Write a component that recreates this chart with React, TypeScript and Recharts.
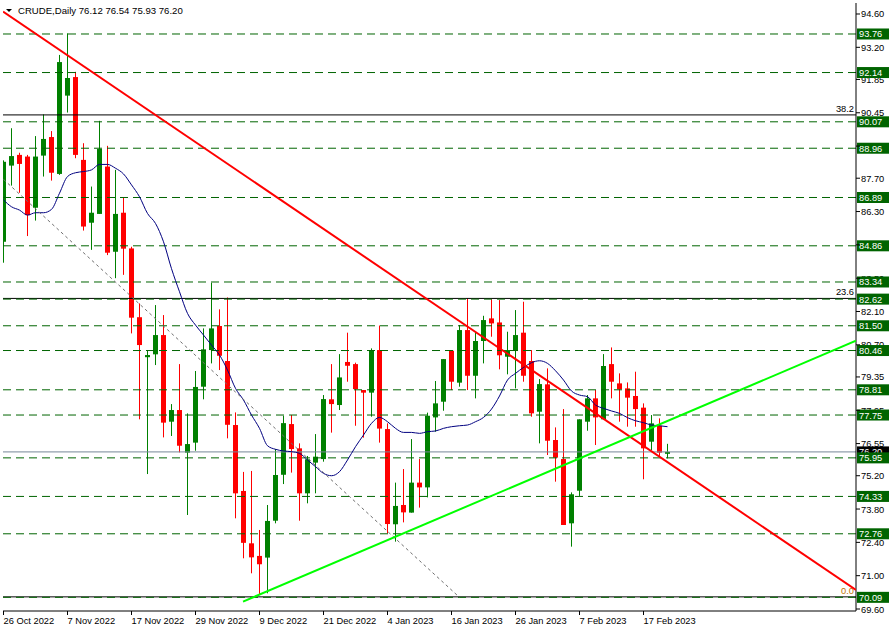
import { Bar, ComposedChart, Line, ReferenceLine, Scatter, XAxis, YAxis } from 'recharts'

const FONT = 'Liberation Sans, Arial, sans-serif'

// daily bars, 26 Oct 2022 .. 22 Feb 2023
const opens = [
  85.03, 88.23, 88.68, 88.61, 86.46, 88.65, 89.43, 87.88, 91.17, 91.95, 88.47, 85.83, 86.2, 88.19, 84.61, 86.25,
  84.75, 81.86, 80.18, 80.3, 81.11, 77.47, 77.96, 76.17, 76.59, 78.94, 80.48, 81.49, 80.02, 77.33, 74.56, 72.36,
  71.83, 71.76, 73.31, 75.24, 77.37, 76.35, 74.46, 75.75, 75.9, 78.41, 78.17, 79.98, 79.89, 78.8, 78.69, 80.48,
  77.16, 73.16, 73.97, 73.65, 74.91, 74.71, 77.65, 78.31, 80.45, 79.11, 81.32, 79.4, 80.86, 81.81, 81.64, 80.2,
  80.44, 81.21, 80.02, 77.89, 79.04, 76.7, 75.9, 73.2, 74.57, 77.47, 78.45, 77.57, 79.89, 79.08, 78.87, 78.55,
  78.06, 76.63, 77.3, 76.12,
]
const highs = [
  88.45, 89.8, 88.77, 88.68, 89.47, 90.38, 89.68, 92.88, 93.79, 92.17, 89.17, 87.35, 90.11, 89.06, 88.05, 86.9,
  84.82, 82.44, 80.46, 82.37, 81.95, 78.21, 79.89, 77.82, 79.6, 81.39, 83.31, 82.19, 82.69, 77.86, 75.36, 75.4,
  72.92, 73.97, 76.32, 77.72, 77.75, 76.56, 76.03, 76.95, 78.59, 79.89, 80.31, 81.21, 79.95, 78.8, 80.55, 81.51,
  77.4, 74.91, 75.48, 76.74, 75.9, 77.85, 79.18, 80.1, 80.45, 81.53, 82.65, 81.25, 81.92, 82.61, 82.58, 81.25,
  82.16, 82.51, 80.48, 79.26, 79.71, 77.23, 78.0, 74.5, 77.57, 78.59, 78.8, 80.31, 80.59, 79.5, 79.12, 79.57,
  78.24, 77.75, 77.61, 76.54,
]
const lows = [
  84.15, 87.39, 87.09, 85.27, 85.92, 87.77, 87.6, 87.84, 90.46, 88.54, 85.5, 84.69, 86.2, 84.47, 83.5, 83.64,
  81.18, 77.57, 75.27, 79.85, 76.81, 76.87, 76.18, 73.55, 76.25, 78.41, 79.92, 79.64, 76.77, 73.41, 71.73, 71.1,
  70.19, 70.26, 73.2, 74.85, 75.33, 73.31, 74.04, 74.46, 75.79, 77.01, 77.96, 79.15, 77.3, 76.8, 77.68, 76.59,
  72.78, 72.43, 73.24, 73.65, 73.86, 74.29, 77.05, 77.93, 78.8, 78.94, 78.8, 78.45, 79.92, 81.04, 79.67, 79.46,
  78.87, 79.15, 77.68, 76.56, 76.07, 74.95, 73.13, 72.22, 74.35, 77.09, 76.49, 77.57, 78.45, 77.47, 77.26, 77.26,
  75.05, 76.28, 76.0, 75.93,
]
const closes = [
  88.39, 88.63, 88.3, 86.15, 88.61, 89.35, 87.93, 92.58, 91.91, 88.68, 85.67, 86.25, 88.93, 84.57, 86.2, 84.74,
  81.84, 80.69, 80.27, 81.11, 77.43, 77.96, 76.46, 76.53, 78.93, 80.51, 81.39, 80.24, 77.34, 74.46, 72.38, 71.77,
  71.48, 73.3, 75.23, 77.41, 76.32, 74.46, 75.89, 76.0, 78.42, 78.21, 79.33, 79.82, 78.84, 78.69, 80.48, 77.18,
  73.17, 73.93, 73.66, 74.91, 74.71, 77.72, 78.24, 80.1, 79.15, 81.32, 79.4, 80.86, 81.74, 81.6, 80.26, 80.48,
  81.11, 79.4, 77.82, 79.05, 76.67, 75.96, 73.13, 74.42, 77.57, 78.45, 77.65, 79.81, 79.15, 78.83, 78.48, 78.0,
  76.35, 77.4, 76.17, 76.2,
]
// navy moving average
const movingAvg = [
  86.79, 86.5, 86.36, 86.15, 86.25, 86.25, 86.39, 87.07, 87.77, 87.93, 87.98, 88.05, 88.28, 88.28, 88.12, 87.88,
  87.42, 86.92, 86.22, 85.8, 85.03, 83.9, 82.93, 82.02, 81.53, 81.11, 80.69, 80.27, 79.64, 78.87, 78.38, 77.75,
  77.19, 76.46, 76.31, 76.24, 76.21, 76.14, 75.86, 75.58, 75.3, 75.2, 75.37, 75.86, 76.42, 76.91, 77.4, 77.65,
  77.47, 77.19, 77.02, 77.02, 76.98, 77.05, 77.08, 77.19, 77.26, 77.3, 77.33, 77.47, 77.65, 78.0, 78.55, 79.22,
  79.5, 79.75, 79.95, 80.03, 79.92, 79.61, 79.22, 78.76, 78.59, 78.52, 78.17, 78.03, 77.92, 77.82, 77.64, 77.51,
  77.43, 77.33, 77.3, 77.26,
]

const dateLabels = ['26 Oct 2022', '7 Nov 2022', '17 Nov 2022', '29 Nov 2022', '9 Dec 2022', '21 Dec 2022', '4 Jan 2023', '16 Jan 2023', '26 Jan 2023', '7 Feb 2023', '17 Feb 2023']
const dateTicks = [0, 8, 16, 24, 32, 40, 48, 56, 64, 72, 80]

const priceTicks = [94.6, 93.2, 91.85, 90.45, 89.05, 87.7, 86.3, 84.9, 83.5, 82.1, 80.7, 79.35, 77.95, 76.55, 75.2, 73.8, 72.4, 71.0, 69.6]
const levels = [93.76, 92.14, 90.07, 88.96, 86.89, 84.86, 83.34, 82.62, 81.5, 80.46, 78.81, 77.75, 75.95, 74.33, 72.76, 70.09]
const fibLevels = [90.36, 82.65, 70.11]
const fibNames = ['38.2', '23.6', '0.0']
const lastPrice = 76.2

const redTrend = [{ i: -0.0625, p: 94.7 }, { i: 106.5625, p: 70.4 }]
const greenTrend = [{ i: 29.94, p: 69.91 }, { i: 106.5625, p: 80.87 }]
const grayTrend = [{ i: 0, p: 87.65 }, { i: 57, p: 70.09 }]

const rows = opens.map((o, i) => ({
  i,
  o,
  h: highs[i],
  l: lows[i],
  c: closes[i],
  range: [lows[i], highs[i]],
  ma: movingAvg[i],
}))

function Candle(props: any) {
  const { x, y, width, height, payload } = props
  if (!payload) return null
  const { o, h, l, c } = payload
  const color = c >= o ? '#008000' : '#ff0000'
  const top = Math.min(y, y + height)
  const hh = Math.abs(height)
  const py = (p: number) => top + ((h - p) / (h - l || 1)) * hh
  const cx = Math.round(x + width / 2) + 0.5
  const bTop = py(Math.max(o, c))
  const bBot = py(Math.min(o, c))
  return (
    <g>
      <line x1={cx} x2={cx} y1={top} y2={top + hh} stroke={color} strokeWidth={1} />
      <rect x={cx - 2.5} y={bTop} width={5} height={Math.max(1, bBot - bTop)} fill={color} />
    </g>
  )
}

function DateTick({ x, y, payload }: any) {
  const k = dateTicks.indexOf(payload.value)
  return (
    <text x={x} y={y + 7} fontSize={9.3} fontFamily={FONT} fill="#000" textAnchor="start">
      {dateLabels[k]}
    </text>
  )
}

// price scale text, drawn in the same layer as the level tags so the tags sit on top
function priceText(text: string) {
  return (props: any) => {
    const { x, y, width } = props.viewBox
    return (
      <text x={x + width + 5} y={y + 3.5} fontSize={9.3} fontFamily={FONT} fill="#000">
        {text}
      </text>
    )
  }
}

function tag(text: string, fill: string) {
  return (props: any) => {
    const { x, y, width } = props.viewBox
    return (
      <g>
        <rect x={x + width + 1} y={y - 5.5} width={32} height={11} fill={fill} />
        <text x={x + width + 3} y={y + 3.5} fontSize={9.3} fontFamily={FONT} fill="#fff">
          {text}
        </text>
      </g>
    )
  }
}

function fibText(text: string) {
  return (props: any) => {
    const { x, y, width } = props.viewBox
    return (
      <text x={x + width - 2} y={y - 3} fontSize={9.3} fontFamily={FONT} fill={text === '0.0' ? '#c07000' : '#000'} textAnchor="end">
        {text}
      </text>
    )
  }
}

export default function App() {
  return (
    <div style={{ position: 'fixed', left: 0, top: 0, width: 896, height: 633, background: '#fff' }}>
      <ComposedChart width={896} height={633} data={rows} margin={{ top: 3, right: 0, bottom: 0, left: 3 }}>
        <XAxis
          dataKey="i"
          type="number"
          domain={[-0.0625, 106.5625]}
          allowDataOverflow
          ticks={dateTicks}
          tick={<DateTick />}
          tickSize={4}
          tickMargin={2}
          height={22}
          stroke="#000"
          interval={0}
        />
        <XAxis xAxisId="top" dataKey="i" type="number" orientation="top" domain={[-0.0625, 106.5625]} height={0} tick={false} tickLine={false} stroke="#000" />
        <YAxis
          orientation="right"
          domain={[69.516, 95.062]}
          allowDataOverflow
          ticks={priceTicks}
          tick={() => <g />}
          tickSize={4}
          width={40}
          stroke="#000"
          interval={0}
        />
        <YAxis yAxisId="left" orientation="left" width={0} tick={false} tickLine={false} stroke="#000" />

        {priceTicks.map((v) => (
          <ReferenceLine key={'t' + v} y={v} stroke="none" label={{ content: priceText(v.toFixed(2)) }} />
        ))}
        <ReferenceLine y={lastPrice} stroke="#778899" label={{ content: tag('76.20', '#000') }} />
        {fibLevels.map((v, k) => (
          <ReferenceLine key={'f' + k} y={v} stroke="#000" label={{ content: fibText(fibNames[k]) }} />
        ))}
        {levels.map((v) => (
          <ReferenceLine key={v} y={v} stroke="#006400" strokeDasharray="8 5" label={{ content: tag(v.toFixed(2), '#006400') }} />
        ))}

        <Bar dataKey="range" barSize={5} shape={<Candle />} isAnimationActive={false} />
        <Line dataKey="ma" type="monotone" stroke="#000080" strokeWidth={1} dot={false} isAnimationActive={false} />
        <Scatter data={grayTrend} dataKey="p" line={{ stroke: '#707070', strokeWidth: 1, strokeDasharray: '3 3' }} shape={() => <g />} isAnimationActive={false} />
        <Scatter data={redTrend} dataKey="p" line={{ stroke: '#ff0000', strokeWidth: 2 }} shape={() => <g />} isAnimationActive={false} />
        <Scatter data={greenTrend} dataKey="p" line={{ stroke: '#00ff00', strokeWidth: 2 }} shape={() => <g />} isAnimationActive={false} />
      </ComposedChart>
      <svg width={200} height={16} style={{ position: 'absolute', left: 0, top: 0 }}>
        <path d="M6 9 L12 9 L9 12 Z" fill="#000" />
        <text x={18} y={14} fontSize={9.6} fontFamily={FONT} fill="#000">
          {'CRUDE,Daily  76.12 76.54 75.93 76.20'}
        </text>
      </svg>
    </div>
  )
}
